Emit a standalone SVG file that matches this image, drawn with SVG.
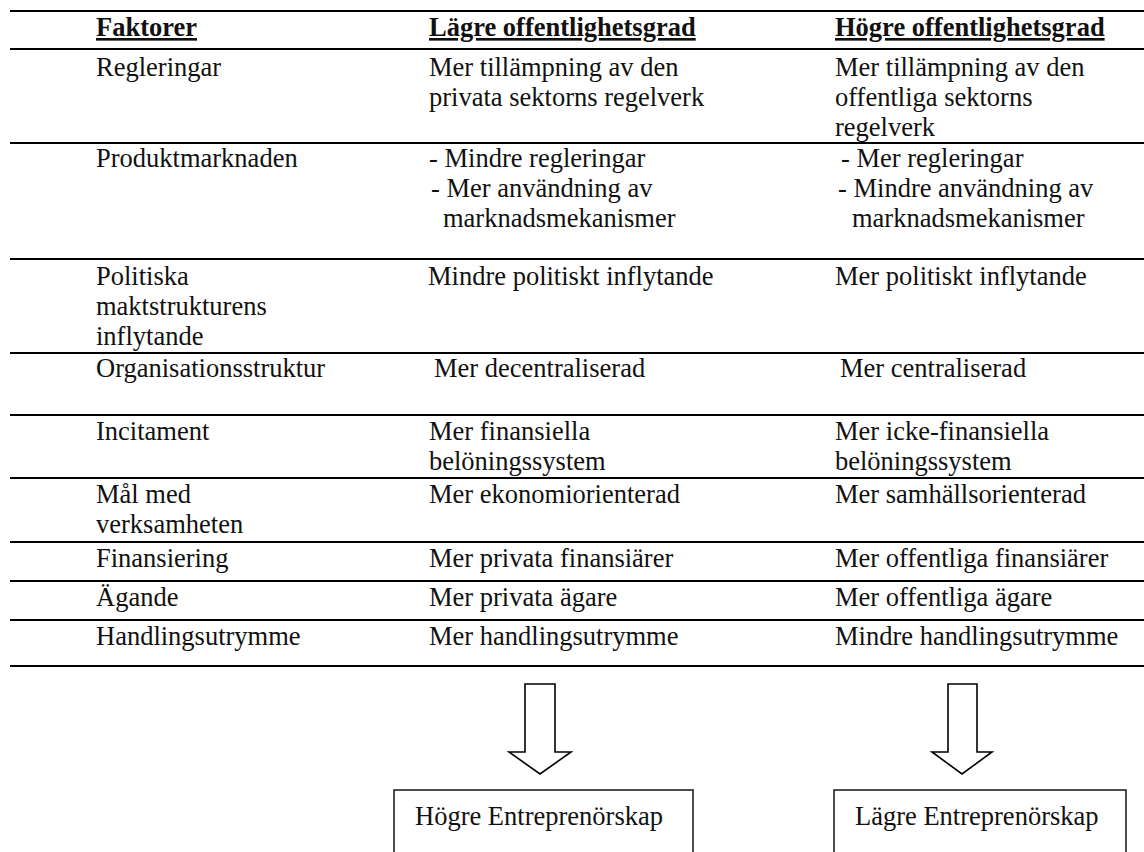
<svg xmlns="http://www.w3.org/2000/svg" width="1144" height="852" viewBox="0 0 1144 852">
<style>
text{font-family:"Liberation Serif","Times New Roman",serif;font-size:26.5px;fill:#111}
.h{font-weight:bold;text-decoration:underline}
.rule{stroke:#000;stroke-width:2.2}
.arrow{fill:#fff;stroke:#000;stroke-width:1.6}
.box{fill:#fff;stroke:#222;stroke-width:1.6}
</style>
<rect width="1144" height="852" fill="#fff"/>
<g id="rules">
<line class="rule" x1="10" y1="11" x2="1144" y2="11"/>
<line class="rule" x1="10" y1="49" x2="1144" y2="49"/>
<line class="rule" x1="10" y1="143" x2="1144" y2="143"/>
<line class="rule" x1="10" y1="259" x2="1144" y2="259"/>
<line class="rule" x1="10" y1="353" x2="1144" y2="353"/>
<line class="rule" x1="10" y1="415" x2="1144" y2="415"/>
<line class="rule" x1="10" y1="478" x2="1144" y2="478"/>
<line class="rule" x1="10" y1="542" x2="1144" y2="542"/>
<line class="rule" x1="10" y1="581" x2="1144" y2="581"/>
<line class="rule" x1="10" y1="620" x2="1144" y2="620"/>
<line class="rule" x1="10" y1="666" x2="1144" y2="666"/>
</g>
<g id="header">
<text class="h" x="96" y="36">Faktorer</text>
<text class="h" x="429" y="36">Lägre offentlighetsgrad</text>
<text class="h" x="835" y="36">Högre offentlighetsgrad</text>
</g>
<g id="row-regleringar">
<text x="96" y="76">Regleringar</text>
<text x="429" y="76">Mer tillämpning av den</text>
<text x="429" y="106">privata sektorns regelverk</text>
<text x="835" y="76">Mer tillämpning av den</text>
<text x="835" y="106">offentliga sektorns</text>
<text x="835" y="136">regelverk</text>
</g>
<g id="row-produktmarknaden">
<text x="96" y="167">Produktmarknaden</text>
<text x="429" y="167">- Mindre regleringar</text>
<text x="431" y="197">- Mer användning av</text>
<text x="443" y="227">marknadsmekanismer</text>
<text x="841" y="167">- Mer regleringar</text>
<text x="838" y="197">- Mindre användning av</text>
<text x="852" y="227">marknadsmekanismer</text>
</g>
<g id="row-politiska">
<text x="96" y="285">Politiska</text>
<text x="96" y="315">maktstrukturens</text>
<text x="96" y="345">inflytande</text>
<text x="428" y="285">Mindre politiskt inflytande</text>
<text x="835" y="285">Mer politiskt inflytande</text>
</g>
<g id="row-organisation">
<text x="96" y="377">Organisationsstruktur</text>
<text x="434" y="377">Mer decentraliserad</text>
<text x="840" y="377">Mer centraliserad</text>
</g>
<g id="row-incitament">
<text x="96" y="440">Incitament</text>
<text x="429" y="440">Mer finansiella</text>
<text x="429" y="470">belöningssystem</text>
<text x="835" y="440">Mer icke-finansiella</text>
<text x="835" y="470">belöningssystem</text>
</g>
<g id="row-mal">
<text x="96" y="503">Mål med</text>
<text x="96" y="533">verksamheten</text>
<text x="429" y="503">Mer ekonomiorienterad</text>
<text x="835" y="503">Mer samhällsorienterad</text>
</g>
<g id="row-finansiering">
<text x="96" y="567">Finansiering</text>
<text x="429" y="567">Mer privata finansiärer</text>
<text x="835" y="567">Mer offentliga finansiärer</text>
</g>
<g id="row-agande">
<text x="96" y="606">Ägande</text>
<text x="429" y="606">Mer privata ägare</text>
<text x="835" y="606">Mer offentliga ägare</text>
</g>
<g id="row-handling">
<text x="96" y="645">Handlingsutrymme</text>
<text x="429" y="645">Mer handlingsutrymme</text>
<text x="835" y="645">Mindre handlingsutrymme</text>
</g>
<g id="connectors">
<path class="arrow" d="M525,684 H555 V752 H571 L540,774 L509,752 H525 Z"/>
<path class="arrow" d="M948,684 H977 V752 H992 L962,774 L932,752 H948 Z"/>
</g>
<g id="node-hogre">
<rect class="box" x="394" y="790" width="299" height="80"/>
<text x="415" y="825">Högre Entreprenörskap</text>
</g>
<g id="node-lagre">
<rect class="box" x="834" y="790" width="292" height="80"/>
<text x="855" y="825">Lägre Entreprenörskap</text>
</g>
</svg>
